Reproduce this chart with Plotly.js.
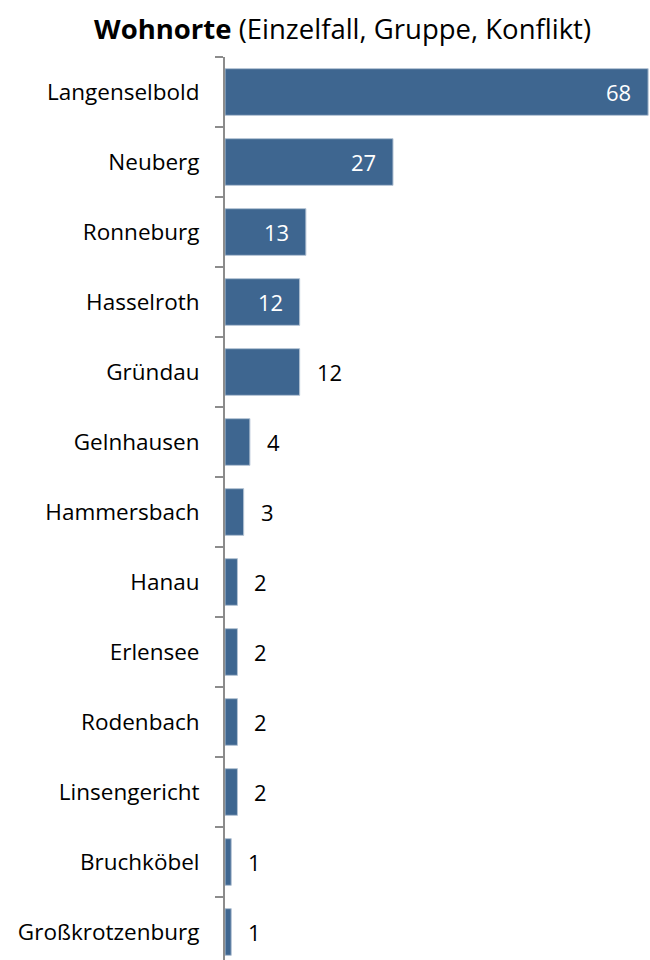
<!DOCTYPE html>
<html>
<head>
<meta charset="utf-8">
<script src="https://cdn.plot.ly/plotly-3.0.1.min.js"></script>
<style>html,body{margin:0;padding:0;background:#fff;}</style>
</head>
<body>
<div id="chart" style="width:650px;height:960px;"></div>
<script>
const categories = ["Langenselbold","Neuberg","Ronneburg","Hasselroth","Gründau","Gelnhausen","Hammersbach","Hanau","Erlensee","Rodenbach","Linsengericht","Bruchköbel","Großkrotzenburg"];
const values = [68,27,13,12,12,4,3,2,2,2,2,1,1];
const labelInside = [true,true,true,true,false,false,false,false,false,false,false,false,false];

const FONT = "'Open Sans', Lato, sans-serif";
const barColor = "#3e6690";

const trace = {
  type: "bar",
  orientation: "h",
  y: categories,
  x: values,
  marker: {color: barColor, line: {color: "#b4c3d4", width: 1}},
  hoverinfo: "skip"
};

const annotations = values.map((v, i) => ({
  x: v,
  y: categories[i],
  xref: "x",
  yref: "y",
  text: String(v),
  showarrow: false,
  xanchor: labelInside[i] ? "right" : "left",
  xshift: labelInside[i] ? -15 : 15,
  font: {family: FONT, size: 22, color: labelInside[i] ? "#ffffff" : "#000000"}
}));

const layout = {
  width: 650,
  height: 960,
  margin: {l: 225, r: 0, t: 57, b: 0, pad: 0},
  paper_bgcolor: "#ffffff",
  plot_bgcolor: "#ffffff",
  bargap: 0.333,
  showlegend: false,
  title: {
    text: "<b>Wohnorte</b> (Einzelfall, Gruppe, Konflikt)",
    font: {family: FONT, size: 27.5, color: "#000000"},
    xref: "container",
    x: 0.527,
    xanchor: "center",
    yref: "container",
    y: 0.969,
    yanchor: "middle"
  },
  xaxis: {
    range: [0, 68.3],
    visible: false,
    showgrid: false,
    zeroline: false,
    fixedrange: true
  },
  yaxis: {
    type: "category",
    categoryorder: "array",
    categoryarray: categories,
    range: [12.4, -0.5],
    showline: true,
    linecolor: "#8c8c8c",
    linewidth: 2,
    ticks: "outside",
    tickson: "boundaries",
    ticklen: 8,
    tickwidth: 2,
    tickcolor: "#8c8c8c",
    ticklabelstandoff: 19,
    showgrid: false,
    zeroline: false,
    tickfont: {family: FONT, size: 22.5, color: "#000000"},
    fixedrange: true
  },
  annotations: annotations
};

Plotly.newPlot("chart", [trace], layout, {displayModeBar: false, staticPlot: true});
</script>
</body>
</html>
